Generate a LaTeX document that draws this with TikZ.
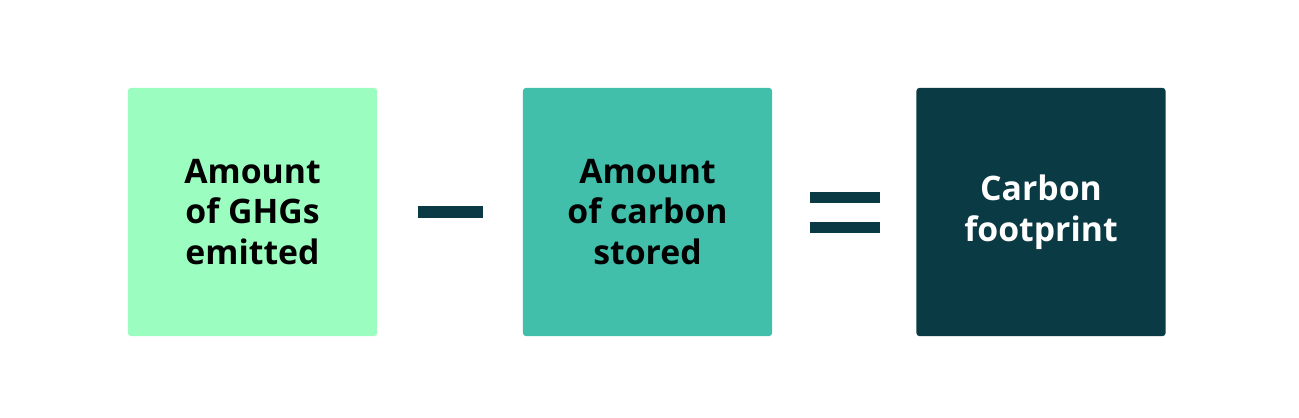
\documentclass[tikz,border=0pt]{standalone}
\usepackage{fontspec}
\setmainfont{Open Sans}
\definecolor{cA}{HTML}{9BFDC0}
\definecolor{cB}{HTML}{41BFAA}
\definecolor{cC}{HTML}{0A3A43}
\begin{document}
\begin{tikzpicture}[x=0.01cm,y=-0.01cm,
  box/.style={minimum width=2.49cm,minimum height=2.48cm,rounded corners=0.03cm,align=center,inner sep=0pt,font=\fontsize{9.6}{11.6}\selectfont\bfseries},
  bar/.style={fill=cC,draw=none}]
\useasboundingbox (0,0) rectangle (1299,417);
\node[box,fill=cA,text=black] (a) at (252.5,212) {Amount\\of GHGs\\emitted};
\node[box,fill=cB,text=black] (b) at (647.5,212) {Amount\\of carbon\\stored};
\node[box,fill=cC,text=white] (c) at (1041,212) {Carbon\\footprint};
\fill[cC] (418,206) rectangle (483,218);
\fill[cC] (810,192) rectangle (880,203);
\fill[cC] (810,222) rectangle (880,233);
\end{tikzpicture}
\end{document}
